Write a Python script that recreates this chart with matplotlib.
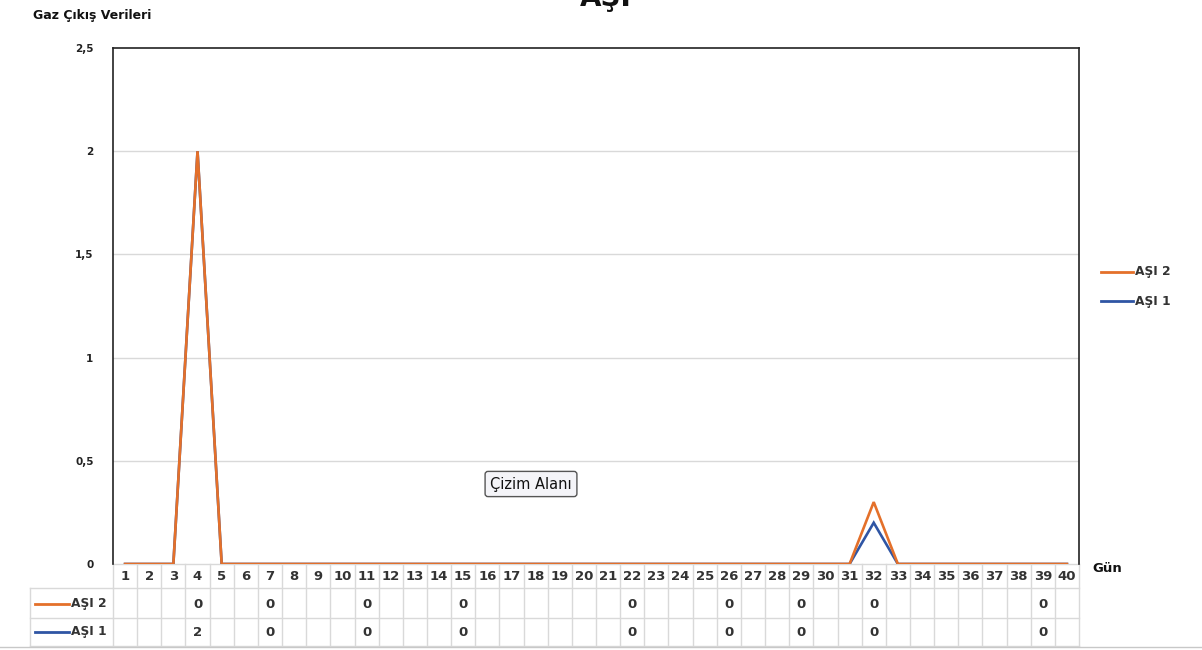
import matplotlib
matplotlib.use("Agg")
import matplotlib.pyplot as plt
from matplotlib.transforms import blended_transform_factory

plt.rcParams['font.family'] = ['DejaVu Sans']

days = list(range(1, 41))
asi1 = [0, 0, 0, 2] + [0] * 27 + [0.2] + [0] * 8
asi2 = [0, 0, 0, 2] + [0] * 27 + [0.3] + [0] * 8
table_days = [4, 7, 11, 15, 22, 26, 29, 32, 39]
table_asi2 = ["0", "0", "0", "0", "0", "0", "0", "0", "0"]
table_asi1 = ["2", "0", "0", "0", "0", "0", "0", "0", "0"]
yticks = [0, 0.5, 1, 1.5, 2, 2.5]
ytick_labels = ["0", "0,5", "1", "1,5", "2", "2,5"]

orange = '#E4702A'
blue = '#2F55A4'
grid_gray = '#D9D9D9'

W, H = 1202, 650
fig = plt.figure(figsize=(W / 100, H / 100), dpi=100)
L, R, B, T = 113, 1079, 564, 48
ax = fig.add_axes([L / W, (H - B) / H, (R - L) / W, (B - T) / H])
axh = B - T

ax.plot(days, asi1, color=blue, lw=1.9, solid_joinstyle='miter', zorder=3)
ax.plot(days, asi2, color=orange, lw=1.9, solid_joinstyle='miter', zorder=4)

ax.set_xlim(0.5, 40.5)
ax.set_ylim(0, 2.5)
ax.set_yticks(yticks)
ax.set_yticklabels(ytick_labels, fontsize=7.5, fontweight='bold', color='#222222')
ax.tick_params(axis='y', length=0, pad=14)
ax.set_xticks([])
for y in yticks[1:-1]:
    ax.axhline(y, color=grid_gray, lw=1.0, zorder=1)
for s in ['left', 'top', 'right']:
    ax.spines[s].set_color('#222222')
    ax.spines[s].set_linewidth(1.2)
ax.spines['bottom'].set_visible(False)

# data table
tr = blended_transform_factory(ax.transData, ax.transAxes)
def fy(px):  # pixel row in figure -> axes fraction
    return (B - px) / axh

rows = [564, 588, 618, 646]
for r in rows:
    ax.plot([0.5, 40.5], [fy(r)] * 2, color=grid_gray, lw=1, transform=tr, clip_on=False)
for i in range(41):
    ax.plot([i + 0.5, i + 0.5], [fy(564), fy(646)], color=grid_gray, lw=1, transform=tr, clip_on=False)
tf = fig.transFigure
x0 = 30 / W
for r in rows[1:]:
    fig.add_artist(plt.Line2D([x0, L / W], [(H - r) / H] * 2, color=grid_gray, lw=1, transform=tf))
fig.add_artist(plt.Line2D([x0, x0], [(H - 588) / H, (H - 646) / H], color=grid_gray, lw=1, transform=tf))

for d in days:
    ax.text(d, fy(577), str(d), transform=tr, ha='center', va='center',
            fontsize=9.5, fontweight='bold', color='#333333')
for d, v in zip(table_days, table_asi2):
    ax.text(d, fy(604), v, transform=tr, ha='center', va='center',
            fontsize=9.5, fontweight='bold', color='#333333')
for d, v in zip(table_days, table_asi1):
    ax.text(d, fy(632), v, transform=tr, ha='center', va='center',
            fontsize=9.5, fontweight='bold', color='#333333')

for name, col, yp in [("AŞI 2", orange, 604), ("AŞI 1", blue, 632)]:
    fig.add_artist(plt.Line2D([35 / W, 69 / W], [(H - yp) / H] * 2, color=col, lw=2, transform=tf))
    fig.text(71 / W, (H - yp) / H, name, ha='left', va='center', fontsize=8.8,
             fontweight='bold', color='#333333')

# legend on the right
for name, col, yp in [("AŞI 2", orange, 272), ("AŞI 1", blue, 301)]:
    fig.add_artist(plt.Line2D([1101 / W, 1133 / W], [(H - yp) / H] * 2, color=col, lw=2, transform=tf))
    fig.text(1135 / W, (H - yp) / H, name, ha='left', va='center', fontsize=8.8,
             fontweight='bold', color='#333333')

# labels
fig.text(33 / W, (H - 15) / H, "Gaz Çıkış Verileri", ha='left', va='center',
         fontsize=9, fontweight='bold', color='#111111')
fig.text(1092 / W, (H - 568) / H, "Gün", ha='left', va='center',
         fontsize=9.5, fontweight='bold', color='#111111')
fig.text(606 / W, (H + 2) / H, "AŞI", ha='center', va='center',
         fontsize=20, fontweight='bold', color='#111111')

# tooltip
fig.text(531 / W, (H - 484) / H, "Çizim Alanı", ha='center', va='center', fontsize=10.5,
         color='#111111',
         bbox=dict(boxstyle='round,pad=0.35,rounding_size=0.2', fc='#F4F4F8', ec='#555555', lw=1))

# bottom spreadsheet border
fig.add_artist(plt.Line2D([0, 1], [(H - 647) / H] * 2, color='#C8C8C8', lw=1, transform=tf))

fig.savefig("out.png", dpi=100)
